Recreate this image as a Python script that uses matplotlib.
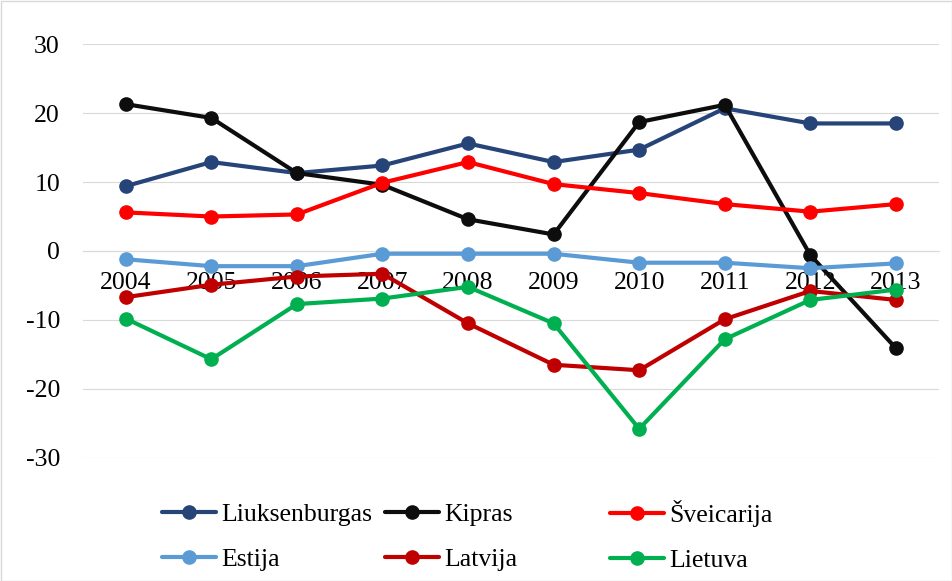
import matplotlib
matplotlib.use("Agg")
import matplotlib.pyplot as plt
from matplotlib.patches import Rectangle

years = ["2004", "2005", "2006", "2007", "2008", "2009", "2010", "2011", "2012", "2013"]
liuksenburgas = [9.4, 12.9, 11.3, 12.4, 15.6, 12.9, 14.7, 20.7, 18.5, 18.5]
kipras = [21.3, 19.3, 11.3, 9.6, 4.6, 2.4, 18.7, 21.2, -0.6, -14.1]
sveicarija = [5.6, 5.0, 5.3, 9.9, 12.9, 9.7, 8.4, 6.8, 5.7, 6.8]
estija = [-1.2, -2.2, -2.2, -0.4, -0.4, -0.4, -1.7, -1.7, -2.5, -1.8]
latvija = [-6.7, -4.9, -3.7, -3.3, -10.5, -16.5, -17.3, -9.9, -5.8, -7.1]
lietuva = [-9.8, -15.7, -7.7, -6.9, -5.2, -10.5, -25.8, -12.8, -7.1, -5.6]

series = [
    ("Liuksenburgas", liuksenburgas, "#264478"),
    ("Kipras", kipras, "#0d0d0d"),
    ("Šveicarija", sveicarija, "#ff0000"),
    ("Estija", estija, "#5b9bd5"),
    ("Latvija", latvija, "#c00000"),
    ("Lietuva", lietuva, "#00b050"),
]

plt.rcParams['font.family'] = ['Liberation Serif', 'DejaVu Serif']
plt.rcParams['axes.unicode_minus'] = False
FS = 18.5

fig = plt.figure(figsize=(9.53, 5.81), dpi=100)
ax = fig.add_axes([0.087, 0.212, 0.898, 0.712])

x = list(range(len(years)))
handles = []
for name, vals, col in series:
    h, = ax.plot(x, vals, color=col, lw=3.0, marker='o', ms=9.5, label=name,
                 zorder=3, solid_capstyle='round')
    handles.append(h)

ax.set_xlim(-0.5, len(years) - 0.5)
ax.set_ylim(-30, 30)
ax.set_yticks([-30, -20, -10, 0, 10, 20, 30])
ax.set_xticks(x)
ax.set_xticklabels(years)
ax.grid(axis='y', color='#d9d9d9', lw=0.8)
ax.set_axisbelow(True)
for s in ['top', 'right', 'left']:
    ax.spines[s].set_visible(False)
ax.spines['bottom'].set_position(('data', 0))
ax.spines['bottom'].set_color('#d9d9d9')
ax.spines['bottom'].set_linewidth(0.8)
ax.tick_params(axis='x', length=0, pad=15, labelsize=FS)
ax.tick_params(axis='y', length=0, pad=16.5, labelsize=FS)
for lab in ax.get_xticklabels():
    lab.set_zorder(1)

# legend in three columns
cols = [(0, 3), (1, 4), (2, 5)]
xs = [162, 385, 610]
tops = [503, 503, 500]
for (i, j), xp, yt in zip(cols, xs, tops):
    fig.legend([handles[i], handles[j]], [series[i][0], series[j][0]],
               loc='upper left', bbox_to_anchor=(xp / 953, 1 - yt / 581),
               frameon=False, fontsize=FS, handlelength=2.1,
               handletextpad=0.2, labelspacing=0.87, borderpad=0,
               borderaxespad=0)

fig.patches.append(Rectangle((0.5 / 953, 0.5 / 581), 1 - 1.5 / 953, 1 - 1.5 / 581,
                             transform=fig.transFigure, fill=False,
                             edgecolor='#d9d9d9', lw=1))

fig.savefig("out.png", dpi=100)
